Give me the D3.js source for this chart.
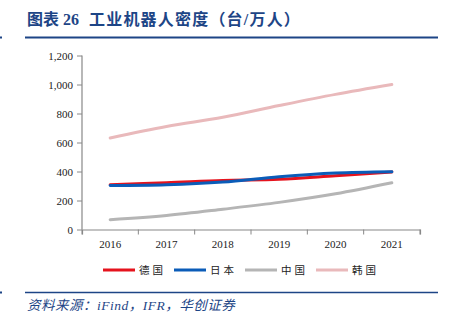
<!DOCTYPE html>
<html>
<head>
<meta charset="utf-8">
<script src="https://cdn.jsdelivr.net/npm/d3@7"></script>
<style>
  body { margin: 0; background: #fff; }
  svg { display: block; }
  text { white-space: pre; }
</style>
</head>
<body>
<div id="chart"></div>
<script>
const years = ["2016", "2017", "2018", "2019", "2020", "2021"];
const germany = [309, 322, 338, 346, 371, 397];
const japan = [303, 308, 327, 364, 390, 399];
const china = [68, 97, 140, 187, 246, 322];
const korea = [631, 710, 774, 855, 932, 1000];
const yTicks = [0, 200, 400, 600, 800, 1000, 1200];

const series = [
  { name: "韩国", values: korea, color: "#e9b9bb" },
  { name: "中国", values: china, color: "#b5b5b5" },
  { name: "德国", values: germany, color: "#e5131d" },
  { name: "日本", values: japan, color: "#0b5cb8" }
];
const legendOrder = ["德国", "日本", "中国", "韩国"];

const W = 458, H = 328;
const svg = d3.select("#chart").append("svg").attr("width", W).attr("height", H);

const navy = "#1d4586";

// header
const title = svg.append("text")
  .attr("x", 27).attr("y", 25)
  .attr("fill", navy)
  .attr("font-family", "Liberation Serif, Noto Sans CJK SC")
  .attr("font-size", 16).attr("font-weight", "bold");
title.append("tspan").text("图表 26 ");
title.append("tspan").attr("dx", 6).attr("letter-spacing", 1.2).text("工业机器人密度（台/万人）");
svg.append("line").attr("x1", 25).attr("x2", 438).attr("y1", 37.5).attr("y2", 37.5)
  .attr("stroke", navy).attr("stroke-width", 2);
svg.append("rect").attr("x", 0).attr("y", 36.5).attr("width", 2).attr("height", 2).attr("fill", navy);

// plot
const x = d3.scaleBand().domain(years).range([82, 420]);
const y = d3.scaleLinear().domain([0, 1200]).range([229.5, 55.5]);

const fontTick = "'Liberation Serif', 'Times New Roman', serif";

const yAxis = svg.append("g").attr("transform", "translate(82,0)")
  .call(d3.axisLeft(y).tickValues(yTicks).tickSize(5).tickPadding(4).tickFormat(d3.format(",")));
const xAxis = svg.append("g").attr("transform", "translate(0,229.5)")
  .call(d3.axisBottom(x).tickSize(5).tickPadding(6));
// tick marks at band boundaries rather than centers
xAxis.selectAll(".tick line").attr("transform", `translate(${x.bandwidth() / 2},0)`);
xAxis.append("line").attr("x1", 82).attr("x2", 82).attr("y1", 0).attr("y2", 5).attr("stroke", "#888");

[yAxis, xAxis].forEach(g => {
  g.attr("font-family", fontTick).attr("font-size", 11);
  g.select(".domain").attr("stroke", "#888").attr("stroke-width", 1.2);
  g.selectAll(".tick line").attr("stroke", "#888");
  g.selectAll("text").attr("fill", "#222").style("font-family", fontTick).style("font-size", "11px");
});
yAxis.select(".domain").attr("d", `M-0,${y(1200)}V${y(0)}`);

const line = d3.line()
  .x((d, i) => x(years[i]) + x.bandwidth() / 2)
  .y(d => y(d))
  .curve(d3.curveCatmullRom.alpha(0.5));

svg.append("g").selectAll("path").data(series).join("path")
  .attr("d", d => line(d.values))
  .attr("fill", "none")
  .attr("stroke", d => d.color)
  .attr("stroke-width", 3)
  .attr("stroke-linecap", "round");

// legend
const legendX = [103, 174, 245, 316];
const lg = svg.append("g").selectAll("g").data(legendOrder).join("g")
  .attr("transform", (d, i) => `translate(${legendX[i]},270)`);
lg.append("line").attr("x1", 0).attr("x2", 32).attr("y1", 0).attr("y2", 0)
  .attr("stroke-width", 3)
  .attr("stroke", d => series.find(s => s.name === d).color);
lg.append("text").attr("x", 36).attr("y", 4)
  .attr("font-family", "Noto Sans CJK SC").attr("font-size", 10.5)
  .attr("letter-spacing", 3).attr("fill", "#222")
  .text(d => d);

// footer
svg.append("line").attr("x1", 25).attr("x2", 438).attr("y1", 292.5).attr("y2", 292.5)
  .attr("stroke", navy).attr("stroke-width", 1.5);
svg.append("rect").attr("x", 0).attr("y", 291.5).attr("width", 2).attr("height", 2).attr("fill", navy);
svg.append("text")
  .attr("x", 27).attr("y", 310)
  .attr("fill", navy)
  .attr("font-family", "Liberation Serif, Noto Sans CJK SC")
  .attr("font-size", 13.5).attr("font-style", "italic")
  .attr("letter-spacing", 0.5)
  .text("资料来源：iFind，IFR，华创证券");
</script>
</body>
</html>
